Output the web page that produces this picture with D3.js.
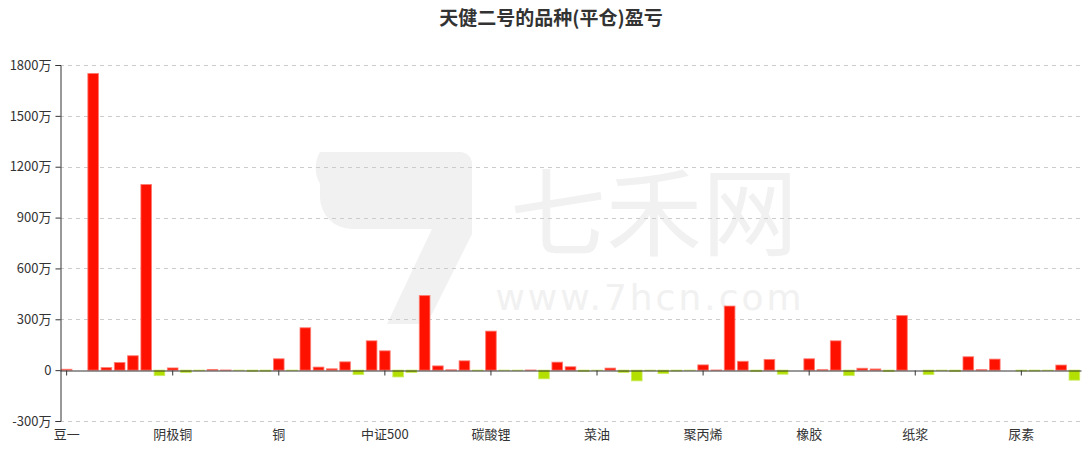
<!DOCTYPE html>
<html><head><meta charset="utf-8">
<script src="https://cdn.jsdelivr.net/npm/d3@7"></script>
<style>
html,body{margin:0;padding:0;background:#fff;}
svg{display:block;font-family:"Noto Sans CJK SC","Noto Sans",sans-serif;}
</style></head>
<body>
<svg id="chart" width="1090" height="450"></svg>
<script>
const title = "天健二号的品种(平仓)盈亏";
// profit/loss per product, in 万
const values = [5,0,1750,15,45,85,1095,-32,13,-14,
  -3,4,1,-1,-7,-6,67,-2,250,18,
  8,49,-26,173,114,-40,-14,440,25,2,
  55,-3,230,-1,-1,1,-51,47,20,-7,
  -1,12,-14,-63,-3,-20,-5,-1,31,1,
  378,52,-8,63,-24,0,67,3,173,-32,
  11,7,-8,322,0,-26,-2,-8,79,3,
  65,0,-5,-5,-2,30,-59];
// visible category labels (every 8th product)
const tickLabels = ["豆一","阴极铜","铜","中证500","碳酸锂","菜油","聚丙烯","橡胶","纸浆","尿素"];
const tickEvery = 8;
const yTicks = [-300,0,300,600,900,1200,1500,1800];

(function(){
const svg = d3.select("#chart");
const mLeft = 60, mRight = 1081, mTop = 65, mBottom = 421;

const idx = d3.range(values.length);
const x = d3.scaleBand().domain(idx).range([mLeft, mRight]).paddingInner(0.2).paddingOuter(0.1);
const y = d3.scaleLinear().domain([-300,1800]).range([mBottom, mTop]);

// watermark
const wm = svg.append("g").attr("fill","#f1f1f1");
wm.append("path").attr("d","M320,152 h140 a12,12 0 0 1 12,12 v70 l-45,90 h-40 l45,-95 h-80 a32,32 0 0 1 -32,-32 v-13 a32,32 0 0 1 0,-32 z");
wm.append("text").attr("x",654).attr("y",248).attr("text-anchor","middle")
  .attr("font-size",96).text("七禾网");
wm.append("text").attr("x",650).attr("y",310).attr("text-anchor","middle")
  .attr("font-family","DejaVu Sans, sans-serif")
  .attr("font-size",36).attr("letter-spacing",3).text("www.7hcn.com");

// grid
svg.append("g").selectAll("line").data(yTicks.filter(d=>d!==0)).join("line")
  .attr("x1",mLeft).attr("x2",mRight+1).attr("y1",d=>Math.round(y(d))+0.5).attr("y2",d=>Math.round(y(d))+0.5)
  .attr("stroke","#ccc").attr("stroke-dasharray","4,4");

// bars
svg.append("g").selectAll("rect").data(values).join("rect")
  .attr("x",(d,i)=>x(i))
  .attr("width",x.bandwidth())
  .attr("y",d=>y(Math.max(0,d)))
  .attr("height",d=>Math.abs(y(d)-y(0)))
  .attr("fill",d=>d>=0?"#ff1100":"#b3e000")
  .attr("stroke",d=>d>=0?"rgba(255,120,110,0.8)":"rgba(200,235,90,0.8)")
  .attr("stroke-width",1);

// y axis
const yAxis = d3.axisLeft(y).tickValues(yTicks).tickSize(5).tickPadding(4)
  .tickFormat(d=>d===0?"0":d+"万");
const gy = svg.append("g").attr("transform",`translate(${mLeft+0.5},0)`).call(yAxis);
gy.select(".domain").attr("stroke","#333");
gy.selectAll(".tick line").attr("stroke","#333");
gy.selectAll("text").attr("fill","#333").attr("font-size",13).attr("font-family","Noto Sans CJK SC, sans-serif");

// x axis at zero
const xAxis = d3.axisBottom(x)
  .tickValues(idx.filter(i=>i%tickEvery===0))
  .tickSize(5).tickSizeOuter(0)
  .tickFormat(i=>tickLabels[i/tickEvery]);
const y0 = Math.round(y(0));
const gx = svg.append("g").attr("transform",`translate(0,${y0+0.5})`).call(xAxis);
gx.select(".domain").attr("stroke","#333");
gx.selectAll(".tick line").attr("stroke","#333");
gx.selectAll("text").attr("fill","#333").attr("font-size",13)
  .attr("font-family","Noto Sans CJK SC, sans-serif")
  .attr("transform",`translate(0,${mBottom-y0})`);

// title
svg.append("text").attr("x",551).attr("y",25).attr("text-anchor","middle")
  .attr("font-size",19).attr("font-weight","bold").attr("fill","#333").text(title);
})();
</script>
</body></html>
